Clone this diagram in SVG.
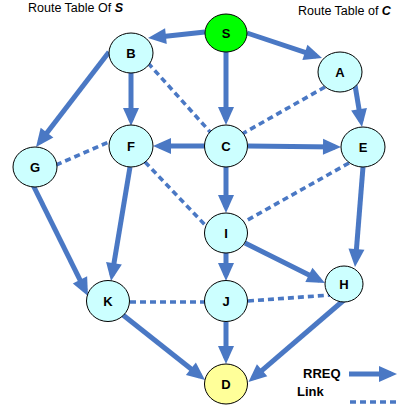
<svg xmlns="http://www.w3.org/2000/svg" width="398" height="405" viewBox="0 0 398 405">
  <style>
    .rreq { fill: none; stroke: #4a78c4; stroke-width: 5; marker-end: url(#head); }
    .link { fill: none; stroke: #4a78c4; stroke-width: 3.6; stroke-dasharray: 6 4; }
    .node ellipse { stroke: #000; stroke-width: 1; fill: #ccffff; }
    .node text { font-family: "Liberation Sans", Arial, sans-serif; font-weight: bold; font-size: 13px; text-anchor: middle; fill: #000; }
    .caption { font-family: "Liberation Sans", Arial, sans-serif; font-size: 12.5px; fill: #000; }
    .legend { font-family: "Liberation Sans", Arial, sans-serif; font-size: 13px; font-weight: bold; fill: #000; }
  </style>
  <defs>
    <marker id="head" markerUnits="userSpaceOnUse" markerWidth="18" markerHeight="16" refX="12" refY="8" orient="auto" overflow="visible">
      <path d="M0,0 L18,8 L0,16 Z" fill="#4a78c4"/>
    </marker>
  </defs>
  <rect width="398" height="405" fill="#fff"/>

  <text class="caption" x="28" y="12">Route Table Of <tspan font-weight="bold" font-style="italic">S</tspan></text>
  <text class="caption" x="298" y="15">Route Table of <tspan font-weight="bold" font-style="italic">C</tspan></text>

  <g id="connectors">
    <!-- links (dashed) -->
    <line class="link" x1="148" y1="63" x2="212" y2="134"/>
    <line class="link" x1="325" y1="87" x2="242" y2="134"/>
    <line class="link" x1="56" y1="165" x2="111" y2="141"/>
    <line class="link" x1="145" y1="162" x2="208" y2="228"/>
    <line class="link" x1="349" y1="163" x2="244" y2="222"/>
    <line class="link" x1="130" y1="302" x2="205" y2="302"/>
    <line class="link" x1="248" y1="301" x2="330" y2="295"/>
    <!-- RREQ flows (solid, arrowed) -->
    <line class="rreq" x1="205" y1="32" x2="154" y2="37.4"/>
    <line class="rreq" x1="247" y1="33" x2="316.3" y2="56.1"/>
    <line class="rreq" x1="226" y1="52" x2="226" y2="119"/>
    <line class="rreq" x1="131" y1="73" x2="131" y2="120"/>
    <line class="rreq" x1="109" y1="52" x2="39.7" y2="142.2"/>
    <line class="rreq" x1="355" y1="85" x2="361" y2="121.1"/>
    <line class="rreq" x1="205" y1="146" x2="159" y2="146"/>
    <line class="rreq" x1="248" y1="146" x2="335" y2="146.9"/>
    <line class="rreq" x1="226" y1="167" x2="226" y2="207"/>
    <line class="rreq" x1="130" y1="167" x2="112" y2="275.1"/>
    <line class="rreq" x1="33" y1="185" x2="85.3" y2="290.6"/>
    <line class="rreq" x1="226" y1="253" x2="226" y2="275"/>
    <line class="rreq" x1="245" y1="243" x2="319.6" y2="280.3"/>
    <line class="rreq" x1="363" y1="167" x2="355.5" y2="261"/>
    <line class="rreq" x1="123" y1="315" x2="200.3" y2="376.3"/>
    <line class="rreq" x1="226" y1="322" x2="226" y2="358"/>
    <line class="rreq" x1="344" y1="300" x2="253" y2="378.1"/>
  </g>

  <g id="S" class="node"><ellipse cx="226" cy="33" rx="21" ry="19" style="fill:#00ff00"/><text x="226" y="38">S</text></g>
  <g id="B" class="node"><ellipse cx="131" cy="53" rx="22" ry="20"/><text x="131" y="58">B</text></g>
  <g id="A" class="node"><ellipse cx="340" cy="72" rx="22" ry="20"/><text x="340" y="77">A</text></g>
  <g id="G" class="node"><ellipse cx="35" cy="167" rx="22" ry="20"/><text x="35" y="172">G</text></g>
  <g id="F" class="node"><ellipse cx="131" cy="146" rx="22" ry="21"/><text x="131" y="151">F</text></g>
  <g id="C" class="node"><ellipse cx="226" cy="146" rx="21.5" ry="21"/><text x="226" y="151">C</text></g>
  <g id="E" class="node"><ellipse cx="363" cy="147" rx="22" ry="20"/><text x="363" y="152">E</text></g>
  <g id="I" class="node"><ellipse cx="226" cy="233" rx="21.5" ry="20"/><text x="226" y="238">I</text></g>
  <g id="H" class="node"><ellipse cx="344" cy="284" rx="19" ry="18"/><text x="344" y="289">H</text></g>
  <g id="K" class="node"><ellipse cx="108" cy="301" rx="21.5" ry="20.5"/><text x="108" y="306">K</text></g>
  <g id="J" class="node"><ellipse cx="226" cy="301" rx="21.5" ry="20.5"/><text x="226" y="306">J</text></g>
  <g id="D" class="node"><ellipse cx="226" cy="384" rx="21.5" ry="20" style="fill:#ffff99"/><text x="226" y="389">D</text></g>

  <g id="legend">
    <text class="legend" x="303" y="378">RREQ</text>
    <line class="rreq" x1="349" y1="374" x2="391" y2="374"/>
    <text class="legend" x="297" y="396">Link</text>
    <line class="link" x1="350" y1="402" x2="398" y2="402"/>
  </g>
</svg>
